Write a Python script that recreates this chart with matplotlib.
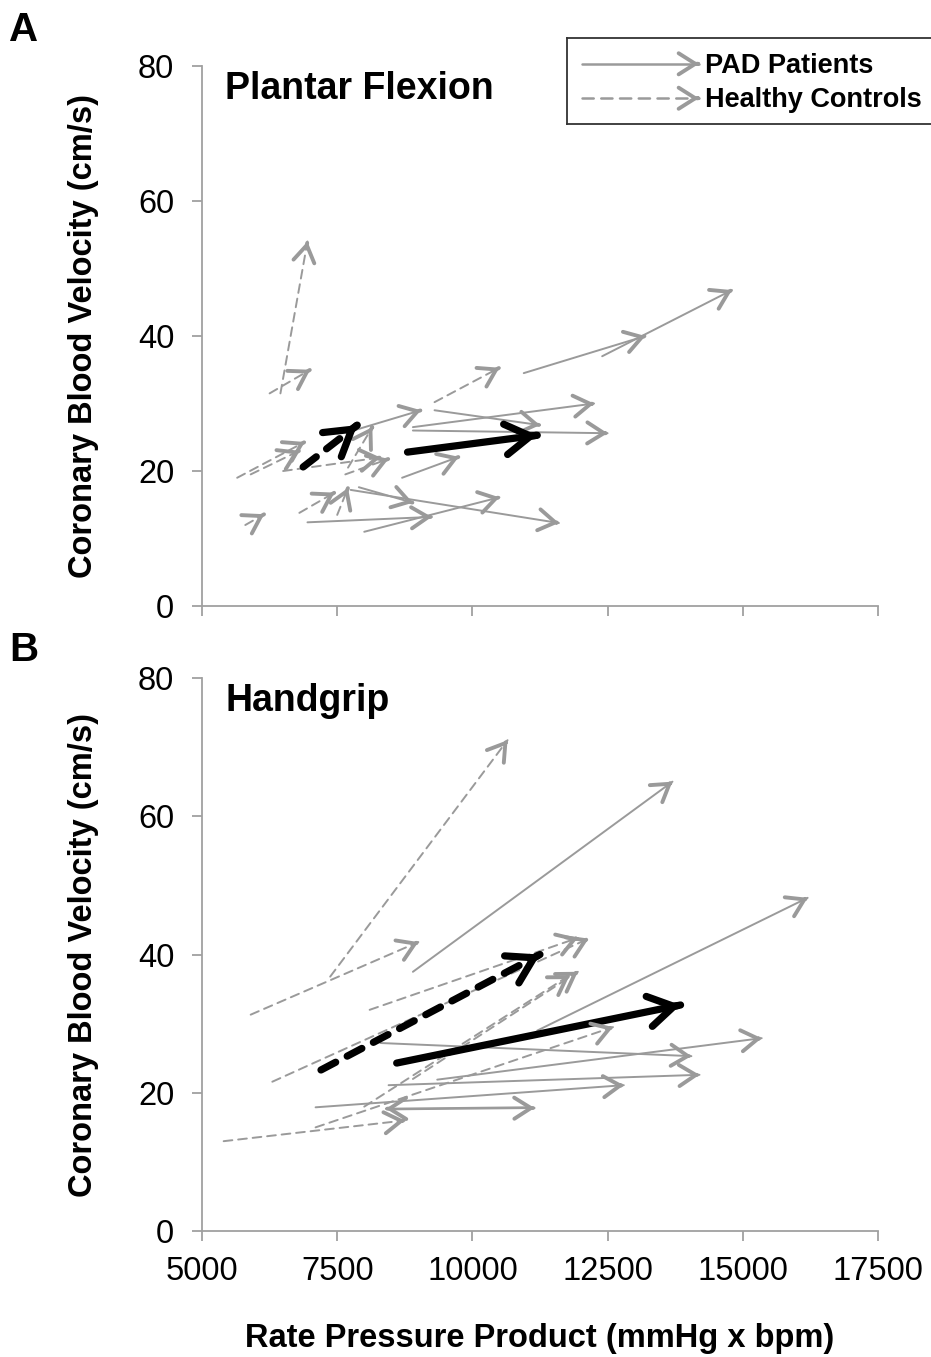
import matplotlib
matplotlib.use('Agg')
import matplotlib.pyplot as plt

plt.rcParams['font.family'] = ['Liberation Sans', 'DejaVu Sans']

#################### Data ####################

# Plantar flexion, PAD patients (rest -> exercise)
pf_pad_rpp0 = [10950, 12400, 9300, 8900, 8900, 8700, 8000, 7750, 6950, 7900, 7800]
pf_pad_cbv0 = [34.5, 37.0, 29.0, 26.5, 26.0, 19.0, 11.0, 17.2, 12.4, 17.6, 26.0]
pf_pad_rpp1 = [13200, 14800, 11250, 12250, 12500, 9750, 10500, 11600, 9250, 8900, 9050]
pf_pad_cbv1 = [40.0, 46.8, 26.8, 30.0, 25.6, 22.1, 16.1, 12.3, 13.2, 15.3, 29.0]

# Plantar flexion, healthy controls
pf_hc_rpp0 = [6450, 6250, 9300, 5650, 5900, 6500, 7700, 6800, 7500, 7650, 5800]
pf_hc_cbv0 = [31.5, 31.5, 30.2, 19.0, 19.5, 20.0, 20.5, 13.8, 13.5, 19.5, 12.0]
pf_hc_rpp1 = [6950, 7000, 10500, 6900, 6800, 8300, 8150, 7450, 7700, 8450, 6150]
pf_hc_cbv1 = [54.0, 35.0, 35.3, 24.3, 23.0, 22.0, 26.5, 16.8, 17.5, 21.8, 13.6]

# Plantar flexion group means (PAD, controls)
pf_mean_rpp0 = [8800, 6870]
pf_mean_cbv0 = [22.8, 20.6]
pf_mean_rpp1 = [11200, 7870]
pf_mean_cbv1 = [25.3, 26.8]

# Handgrip, PAD patients
hg_pad_rpp0 = [8900, 11200, 9350, 8300, 8450, 7100, 8450, 11000]
hg_pad_cbv0 = [37.5, 29.0, 21.9, 27.2, 21.1, 17.9, 17.6, 17.9]
hg_pad_rpp1 = [13700, 16200, 15350, 14050, 14200, 12800, 11150, 8400]
hg_pad_cbv1 = [65.0, 48.2, 27.9, 25.3, 22.6, 21.1, 17.8, 17.7]

# Handgrip, healthy controls
hg_hc_rpp0 = [5900, 7370, 6300, 8100, 8000, 8900, 5400, 7100]
hg_hc_cbv0 = [31.3, 36.8, 21.6, 32.0, 18.0, 22.0, 13.0, 15.0]
hg_hc_rpp1 = [9000, 10650, 12150, 11950, 11800, 11950, 8750, 12600]
hg_hc_cbv1 = [41.8, 71.0, 42.3, 42.4, 37.0, 37.5, 16.0, 29.5]

# Handgrip group means (PAD, controls)
hg_mean_rpp0 = [8600, 7200]
hg_mean_cbv0 = [24.3, 23.3]
hg_mean_rpp1 = [13850, 11250]
hg_mean_cbv1 = [32.7, 40.0]

x_ticks = [5000, 7500, 10000, 12500, 15000, 17500]
y_ticks = [0, 20, 40, 60, 80]

GRAY = '#9a9a9a'
AXGRAY = '#a0a0a0'


def arrow(ax, x0, y0, x1, y1, color, lw, head_lw, dashes, hl, hw):
    # shaft
    if dashes is None:
        ax.plot([x0, x1], [y0, y1], color=color, lw=lw, solid_capstyle='round')
    else:
        ax.plot([x0, x1], [y0, y1], color=color, lw=lw, linestyle=(0, dashes),
                dash_capstyle='round')
    # open head, drawn solid
    xs = x1 - 0.01 * (x1 - x0)
    ys = y1 - 0.01 * (y1 - y0)
    ax.annotate('', xy=(x1, y1), xytext=(xs, ys),
                arrowprops=dict(arrowstyle=f'->,head_length={hl},head_width={hw}',
                                color=color, lw=head_lw, shrinkA=0, shrinkB=0,
                                mutation_scale=20, capstyle='round',
                                joinstyle='round'))


def panel(ax, pad, hc, mean, title, show_xlabels):
    for x0, y0, x1, y1 in zip(*pad):
        arrow(ax, x0, y0, x1, y1, GRAY, 1.4, 2.8, None, 0.6, 0.38)
    for x0, y0, x1, y1 in zip(*hc):
        arrow(ax, x0, y0, x1, y1, GRAY, 1.4, 2.8, (4.5, 3), 0.6, 0.38)
    # means: PAD solid, controls dashed
    rx0, cy0, rx1, cy1 = mean
    arrow(ax, rx0[1], cy0[1], rx1[1], cy1[1], 'black', 5.2, 5.2, (2.3, 1.8), 0.9, 0.55)
    arrow(ax, rx0[0], cy0[0], rx1[0], cy1[0], 'black', 5.2, 5.2, None, 0.9, 0.55)

    ax.set_xlim(5000, 17500)
    ax.set_ylim(0, 80)
    ax.set_xticks(x_ticks)
    ax.set_yticks(y_ticks)
    if not show_xlabels:
        ax.set_xticklabels([])
    for s in ['top', 'right']:
        ax.spines[s].set_visible(False)
    for s in ['left', 'bottom']:
        ax.spines[s].set_color(AXGRAY)
        ax.spines[s].set_linewidth(1.3)
    ax.tick_params(direction='out', length=7, width=1.3, color=AXGRAY,
                   labelsize=23.5)
    ax.tick_params(axis='y', pad=13)
    ax.tick_params(axis='x', pad=11)
    ax.set_ylabel('Coronary Blood Velocity (cm/s)', fontsize=23.5,
                  fontweight='bold', labelpad=28)
    ax.text(0.034, 0.958, title, transform=ax.transAxes, fontsize=27,
            fontweight='bold', va='center', ha='left')


fig = plt.figure(figsize=(9.31, 13.57), dpi=100)
axA = fig.add_axes([0.217, 0.5534, 0.726, 0.398])
axB = fig.add_axes([0.217, 0.0928, 0.726, 0.4076])

panel(axA, (pf_pad_rpp0, pf_pad_cbv0, pf_pad_rpp1, pf_pad_cbv1),
      (pf_hc_rpp0, pf_hc_cbv0, pf_hc_rpp1, pf_hc_cbv1),
      (pf_mean_rpp0, pf_mean_cbv0, pf_mean_rpp1, pf_mean_cbv1),
      'Plantar Flexion', False)
panel(axB, (hg_pad_rpp0, hg_pad_cbv0, hg_pad_rpp1, hg_pad_cbv1),
      (hg_hc_rpp0, hg_hc_cbv0, hg_hc_rpp1, hg_hc_cbv1),
      (hg_mean_rpp0, hg_mean_cbv0, hg_mean_rpp1, hg_mean_cbv1),
      'Handgrip', True)
axB.set_xlabel('Rate Pressure Product (mmHg x bpm)', fontsize=23.5,
               fontweight='bold', labelpad=26)

# panel letters
fig.text(0.010, 0.978, 'A', fontsize=29, fontweight='bold', va='center')
fig.text(0.010, 0.521, 'B', fontsize=29, fontweight='bold', va='center')

# legend box, clipped by the right edge of the figure
leg = fig.add_axes([0.609, 0.9086, 0.45, 0.0634])
leg.set_xlim(0, 1)
leg.set_ylim(0, 1)
leg.set_xticks([]), leg.set_yticks([])
for s in leg.spines.values():
    s.set_color('#333333')
    s.set_linewidth(1.3)
arrow(leg, 0.035, 0.70, 0.315, 0.70, GRAY, 1.8, 2.8, None, 0.6, 0.38)
arrow(leg, 0.035, 0.30, 0.315, 0.30, GRAY, 1.8, 2.8, (4.5, 3), 0.6, 0.38)
leg.text(0.33, 0.68, 'PAD Patients', fontsize=19.5, fontweight='bold', va='center')
leg.text(0.33, 0.28, 'Healthy Controls', fontsize=19.5, fontweight='bold', va='center')

fig.savefig('out.png', dpi=100)
